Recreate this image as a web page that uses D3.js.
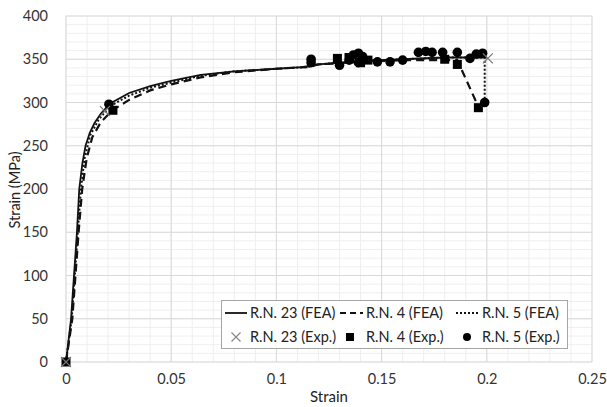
<!DOCTYPE html>
<html><head><meta charset="utf-8">
<script src="https://cdn.jsdelivr.net/npm/d3@7"></script>
<style>body{margin:0;background:#fff;}svg{display:block;font-family:Lato,"Open Sans",sans-serif;}</style>
</head><body>
<svg id="c" width="607" height="407"></svg>
<script>
// FEA curves [strain, stress]
const fea23 = [[0,0],[0.0024,50],[0.0038,100],[0.0052,150],[0.0063,200],[0.0078,230],[0.0093,250],[0.0113,265],[0.0135,276],[0.0165,287],[0.021,299],[0.03,311],[0.04,319],[0.05,325],[0.064,332],[0.08,336],[0.1,339],[0.112,341],[0.12,344],[0.14,348],[0.16,350],[0.18,352],[0.2,352]];
const fea4 = [[0,0],[0.003,50],[0.0045,100],[0.006,150],[0.0077,200],[0.0098,235],[0.0125,260],[0.0165,277],[0.022,291],[0.03,303],[0.04,314],[0.05,321],[0.064,329],[0.08,335],[0.1,339],[0.115,341],[0.12,344],[0.14,347],[0.16,349],[0.186,349],[0.196,295]];
const fea5 = [[0,0],[0.0027,50],[0.0042,100],[0.0056,150],[0.0071,200],[0.0088,235],[0.0115,262],[0.0155,280],[0.021,296],[0.03,308],[0.04,317],[0.05,323],[0.064,331],[0.08,336],[0.1,339],[0.115,341],[0.12,344],[0.14,348],[0.16,350],[0.18,352],[0.199,352],[0.199,300]];
// Experimental points
const exp23 = [[0,0],[0.0185,290],[0.2005,351]];
const exp4 = [[0,0],[0.0223,291],[0.129,351],[0.1345,352],[0.1435,349],[0.14,346],[0.18,350],[0.186,344],[0.196,294]];
const exp5 = [[0.0204,298],[0.1165,350],[0.1165,346],[0.130,343],[0.1346,349],[0.1366,355],[0.139,357],[0.139,346],[0.141,353],[0.148,347],[0.154,347],[0.160,349],[0.1675,358],[0.171,359],[0.174,358],[0.179,358],[0.186,358],[0.192,351],[0.195,356],[0.198,357],[0.199,300]];
const xTicks = [0,0.05,0.1,0.15,0.2,0.25];
const yTicks = [0,50,100,150,200,250,300,350,400];
const legendLabels = ["R.N. 23 (FEA)","R.N. 4 (FEA)","R.N. 5 (FEA)","R.N. 23 (Exp.)","R.N. 4 (Exp.)","R.N. 5 (Exp.)"];

const svg = d3.select("#c");
const x = d3.scaleLinear().domain([0,0.25]).range([66,592]);
const y = d3.scaleLinear().domain([0,400]).range([362,16]);

// minor grid
const g = svg.append("g");
g.selectAll(".mx").data(d3.range(0,0.2501,0.01)).enter().append("line")
  .attr("x1",d=>x(d)).attr("x2",d=>x(d)).attr("y1",y(0)).attr("y2",y(400))
  .attr("stroke","#efefef").attr("stroke-width",1);
g.selectAll(".my").data(d3.range(0,401,10)).enter().append("line")
  .attr("y1",d=>y(d)).attr("y2",d=>y(d)).attr("x1",x(0)).attr("x2",x(0.25))
  .attr("stroke","#efefef").attr("stroke-width",1);
// major grid
g.selectAll(".Mx").data(xTicks).enter().append("line")
  .attr("x1",d=>x(d)).attr("x2",d=>x(d)).attr("y1",y(0)).attr("y2",y(400))
  .attr("stroke","#d9d9d9").attr("stroke-width",1);
g.selectAll(".My").data(yTicks).enter().append("line")
  .attr("y1",d=>y(d)).attr("y2",d=>y(d)).attr("x1",x(0)).attr("x2",x(0.25))
  .attr("stroke","#d9d9d9").attr("stroke-width",1);

// axes labels
const xa = d3.axisBottom(x).tickValues(xTicks).tickSize(0).tickPadding(12).tickFormat(d=>String(d));
const ya = d3.axisLeft(y).tickValues(yTicks).tickSize(0).tickPadding(12).tickFormat(d=>String(d));
const gx = svg.append("g").attr("transform",`translate(0,${y(0)})`).call(xa);
const gy = svg.append("g").attr("transform",`translate(${x(0)},0)`).call(ya);
[gx,gy].forEach(a=>{a.select(".domain").remove();a.selectAll("text").attr("font-size",14.5).attr("fill","#333").attr("font-family","Lato, sans-serif");});
gy.selectAll("text").attr("dx",-6);

svg.append("text").attr("x",329).attr("y",402).attr("text-anchor","middle").attr("font-size",15).attr("fill","#222").text("Strain");
svg.append("text").attr("transform","translate(20,190) rotate(-90)").attr("text-anchor","middle").attr("font-size",14.5).attr("fill","#222").text("Strain (MPa)");

// lines
const line = d3.line().x(d=>x(d[0])).y(d=>y(d[1]));
const pg = svg.append("g");
pg.append("path").datum(fea4).attr("d",line).attr("fill","none").attr("stroke","#111").attr("stroke-width",2.2).attr("stroke-dasharray","8,5");
pg.append("path").datum(fea5).attr("d",line).attr("fill","none").attr("stroke","#111").attr("stroke-width",2).attr("stroke-dasharray","2,2");
pg.append("path").datum(fea23).attr("d",line).attr("fill","none").attr("stroke","#111").attr("stroke-width",1.8);

// markers
pg.selectAll(".sq").data(exp4).enter().append("rect")
  .attr("x",d=>x(d[0])-4.5).attr("y",d=>y(d[1])-4.5).attr("width",9).attr("height",9).attr("fill","#000");
pg.selectAll(".ci").data(exp5).enter().append("circle")
  .attr("cx",d=>x(d[0])).attr("cy",d=>y(d[1])).attr("r",4.8).attr("fill","#000");
const cross = (sel,cx,cy,s,col)=>{
  sel.append("path").attr("d",`M${cx-s},${cy-s}L${cx+s},${cy+s}M${cx-s},${cy+s}L${cx+s},${cy-s}`)
    .attr("stroke",col).attr("stroke-width",1.2).attr("fill","none");
};
exp23.forEach(d=>cross(pg,x(d[0]),y(d[1]),5,"#777"));

// legend
const lg = svg.append("g");
lg.append("rect").attr("x",221.5).attr("y",300.5).attr("width",346).attr("height",48).attr("fill","#fff").attr("stroke","#a6a6a6");
const r1 = 313, r2 = 337;
const tx = [250,366,482];
lg.append("line").attr("x1",225).attr("x2",247).attr("y1",r1).attr("y2",r1).attr("stroke","#111").attr("stroke-width",1.8);
lg.append("line").attr("x1",340).attr("x2",363).attr("y1",r1).attr("y2",r1).attr("stroke","#111").attr("stroke-width",2.2).attr("stroke-dasharray","6,4");
lg.append("line").attr("x1",456).attr("x2",478).attr("y1",r1).attr("y2",r1).attr("stroke","#111").attr("stroke-width",2).attr("stroke-dasharray","2,2");
cross(lg,236,r2,4.5,"#888");
lg.append("rect").attr("x",346).attr("y",r2-4).attr("width",8).attr("height",8).attr("fill","#000");
lg.append("circle").attr("cx",467).attr("cy",r2).attr("r",4).attr("fill","#000");
legendLabels.forEach((t,i)=>{
  lg.append("text").attr("x",tx[i%3]).attr("y",(i<3?r1:r2)+5).attr("font-size",14.5).attr("fill","#222").text(t);
});
</script>
</body></html>
